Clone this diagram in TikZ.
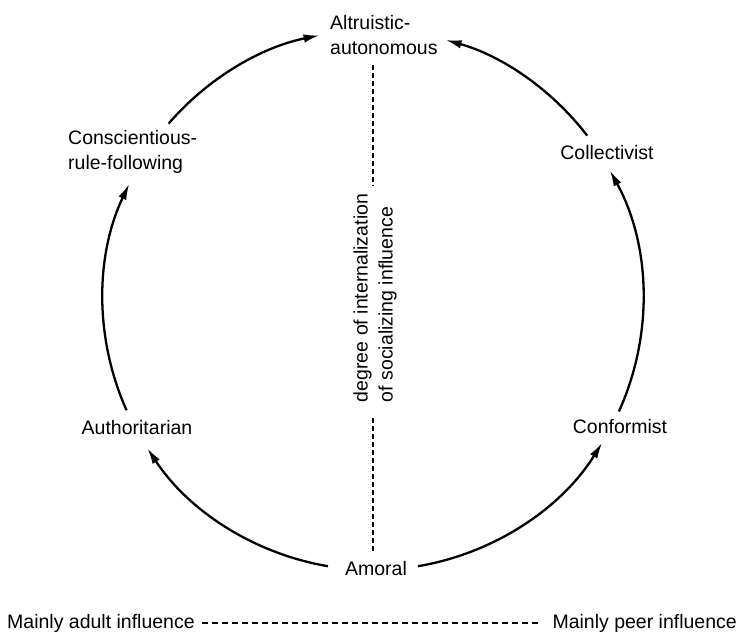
\documentclass[tikz,border=0pt]{standalone}
\usepackage{fontspec}
\setmainfont{Liberation Sans}
\usetikzlibrary{arrows.meta,calc}
\begin{document}
\begin{tikzpicture}[x=1pt,y=1pt,
  lab/.style={font=\fontsize{19.5}{25}\selectfont, inner sep=0pt, align=left},
  cyc/.style={line width=2.3pt, -{Latex[length=16pt,width=8.5pt]}},
  axisline/.style={line width=2pt, dash pattern=on 5pt off 3pt},
  baseline/.style={line width=2pt, dash pattern=on 6.5pt off 3.5pt}]
\useasboundingbox (0,0) rectangle (739,-644);
\coordinate (C) at (373,-300);
% nodes
\node[lab, anchor=west] (altru) at (330,-35) {Altruistic-\\autonomous};
\node[lab, anchor=west] (consc) at (68,-152) {Conscientious-\\rule-following};
\node[lab] (auth) at (137,-428) {Authoritarian};
\node[lab] (amoral) at (376,-569) {Amoral};
\node[lab] (conf) at (620,-427) {Conformist};
\node[lab] (coll) at (607,-153) {Collectivist};
\node[lab, rotate=90] (deg) at (375,-298) {degree of internalization\\of socializing influence};
\node[lab, anchor=west] (adult) at (7,-623) {Mainly adult influence};
\node[lab, anchor=east] (peer) at (737,-623) {Mainly peer influence};
% arc start points on the circle
\coordinate (s1) at ($(C)+(260.4:270)$);
\coordinate (s2) at ($(C)+(204.1:270)$);
\coordinate (s3) at ($(C)+(139.2:270)$);
\coordinate (s4) at ($(C)+(279.6:270)$);
\coordinate (s5) at ($(C)+(335.6:270)$);
\coordinate (s6) at ($(C)+(37.5:270)$);
% cycle arrows
\draw[cyc] (s1) arc[start angle=260.4, end angle=213.3, radius=270pt];
\draw[cyc] (s2) arc[start angle=204.1, end angle=154.5, radius=270pt];
\draw[cyc] (s3) arc[start angle=139.2, end angle=101.4, radius=270pt];
\draw[cyc] (s4) arc[start angle=279.6, end angle=328.1, radius=270pt];
\draw[cyc] (s5) arc[start angle=-24.4, end angle=28.7, radius=270pt];
\draw[cyc] (s6) arc[start angle=37.5, end angle=74.4, radius=270pt];
% vertical dashed axis
\coordinate (vtop) at (373,-65);
\coordinate (vbot) at (373,-552);
\draw[axisline] (vtop) -- ([yshift=8pt]deg.east -| vtop);
\draw[axisline] ([yshift=-16pt]deg.west -| vbot) -- (vbot);
% horizontal dashed axis
\draw[baseline] ([xshift=7pt]adult.east) -- ([xshift=-14pt]peer.west);
\end{tikzpicture}
\end{document}
